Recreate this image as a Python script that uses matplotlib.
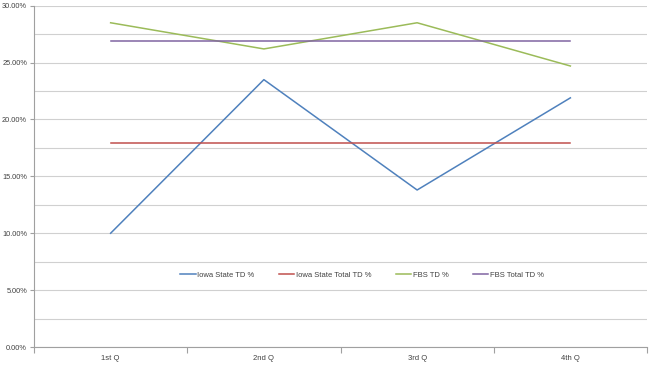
import matplotlib
matplotlib.use("Agg")
import matplotlib.pyplot as plt
from matplotlib.ticker import FixedLocator, MultipleLocator, FuncFormatter

categories = ["1st Q", "2nd Q", "3rd Q", "4th Q"]
iowa_td = [10.0, 23.5, 13.8, 21.9]
iowa_total_td = [17.9, 17.9, 17.9, 17.9]
fbs_td = [28.5, 26.2, 28.5, 24.7]
fbs_total_td = [26.9, 26.9, 26.9, 26.9]

series = [
    ("Iowa State TD %", iowa_td, "#4F81BD"),
    ("Iowa State Total TD %", iowa_total_td, "#C0504D"),
    ("FBS TD %", fbs_td, "#9BBB59"),
    ("FBS Total TD %", fbs_total_td, "#8064A2"),
]

plt.rcParams['font.family'] = ['Liberation Sans', 'DejaVu Sans']

fig = plt.figure(figsize=(6.5, 3.66), dpi=100)
ax = fig.add_axes([34/650, 19/366, 613/650, 341.3/366])

x = list(range(len(categories)))
for name, vals, col in series:
    ax.plot(x, vals, color=col, lw=1.1, label=name)

ax.set_xlim(-0.5, len(categories) - 0.5)
ax.set_ylim(0, 30)
ax.yaxis.set_major_locator(MultipleLocator(5))
ax.yaxis.set_minor_locator(MultipleLocator(2.5))
ax.yaxis.set_major_formatter(FuncFormatter(lambda v, p: f"{v:.2f}%"))
ax.grid(True, which="both", axis="y", color="#D0D0D0", lw=0.8)
ax.set_axisbelow(True)

ax.set_xticks(x)
ax.set_xticklabels(categories)
ax.xaxis.set_minor_locator(FixedLocator([i - 0.5 for i in range(len(categories) + 1)]))
ax.tick_params(axis="x", which="major", length=0, labelsize=5.5, labelcolor="#404040", pad=6)
ax.tick_params(axis="x", which="minor", length=4, color="#A0A0A0", width=0.8)
ax.tick_params(axis="y", which="major", length=3, color="#A0A0A0", width=0.8, labelsize=5.3, labelcolor="#404040", pad=2)
ax.tick_params(axis="y", which="minor", length=0)

for s in ["top", "right"]:
    ax.spines[s].set_visible(False)
for s in ["left", "bottom"]:
    ax.spines[s].set_color("#A0A0A0")
    ax.spines[s].set_linewidth(0.8)

leg = ax.legend(loc="center", ncol=4, frameon=False,
                fontsize=5.5, handlelength=2.0, columnspacing=3.2, handletextpad=0.2)
leg.set_bbox_to_anchor((362/650, (366-275)/366), transform=fig.transFigure)
for t in leg.get_texts():
    t.set_color("#404040")

fig.savefig("out.png", dpi=100, facecolor="white")
